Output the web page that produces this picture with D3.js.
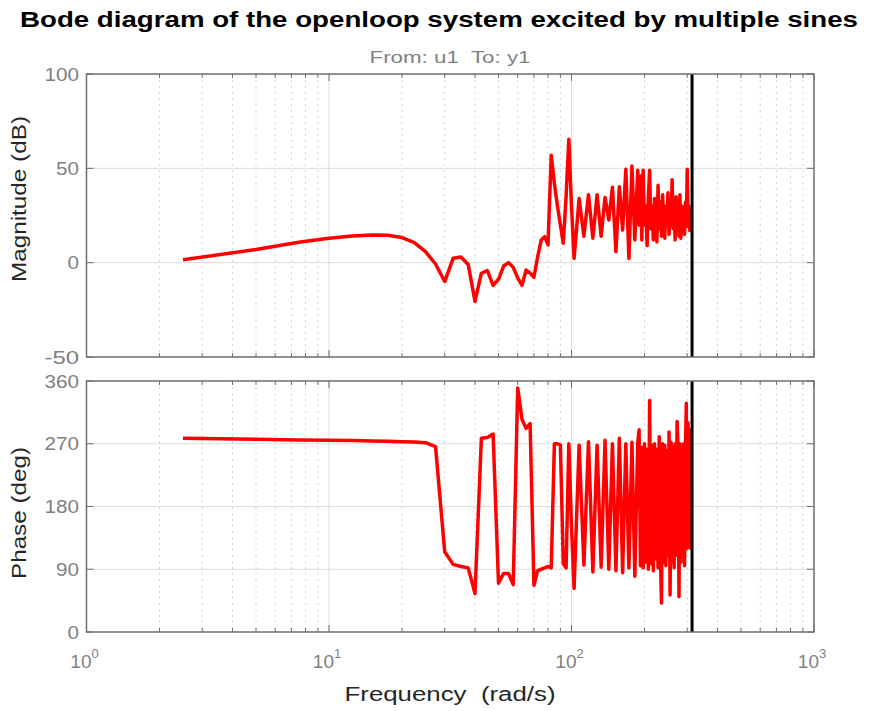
<!DOCTYPE html>
<html>
<head>
<meta charset="utf-8">
<script src="https://cdn.jsdelivr.net/npm/d3@7"></script>
<style>
  body { margin: 0; background: #fff; }
  svg { display: block; }
  text { font-family: "Liberation Sans", Arial, sans-serif; white-space: pre; }
</style>
</head>
<body>
<svg width="869" height="711"></svg>
<script>
// frequency points (rad/s)
const freq = [
  2.5, 5, 7.5, 10, 12.5, 15, 17.5, 20, 22.5, 25, 27.5, 30, 32.5, 35, 37.5, 40,
  42.5, 45, 47.5, 50, 52.5, 55, 57.5, 60, 62.5, 65, 67.5, 70, 72.5, 75, 77.5, 80,
  82.5, 85, 87.5, 90, 92.5, 95, 97.5, 100,
  102.5, 107.5, 112.5, 117.5, 122.5, 127.5, 132.5, 137.5, 142.5, 147.5, 152.5,
  157.5, 162.5, 167.5, 172.5, 177.5, 182.5, 187.5,
  190, 192.5, 195, 197.5, 200, 202.5, 205, 207.5, 210, 212.5, 215, 217.5, 220,
  222.5, 225, 227.5, 230, 232.5, 235, 237.5, 240, 242.5, 245, 247.5, 250, 252.5,
  255, 257.5, 260, 262.5, 265, 267.5, 270, 272.5, 275, 277.5, 280, 282.5, 285,
  287.5, 290, 292.5, 295, 297.5, 300, 302.5, 305, 307.5, 310, 312.5
]

// magnitude (dB)
const magDb = [
  1.5, 7, 10.8, 12.9, 14.1, 14.6, 14.5, 13.3, 10.6, 5.8, -0.7, -10, 2.3, 3, -1, -20.5,
  -5.6, -4.2, -12, -8.8, -1.8, 0, -2.5, -8, -12, -3.9, -5.5, -7.7, 3, 12, 13.8, 9.4,
  57, 42, 30, 20, 10.3, 35, 65.4, 30,
  2.3, 34, 14, 36, 13, 36, 14, 34.6, 22.6, 40, 5.8,
  40.3, 17.3, 49.5, 2.3, 51.2, 12, 49,
  20, 46, 12, 49, 20, 30, 9, 35, 49, 18, 30, 12, 34,
  20, 11, 41, 18, 32, 14, 36, 20, 13, 30, 22, 37, 15,
  28, 20, 44, 18, 30, 12, 35, 20, 28, 14, 36, 13, 30,
  22, 28, 15, 32, 19, 49.5, 22, 30, 17, 28, 22
]

// phase (deg)
const phaseDeg = [
  278, 276.5, 275.5, 275, 274.5, 274, 273.5, 273, 272.5, 271.5, 266, 115, 97, 94, 92, 55,
  278, 279, 284, 70, 84, 84, 68, 350, 305, 292, 299, 67, 88, 90, 92, 94,
  92, 270, 270, 268, 98, 92, 270, 150,
  62.6, 268, 96, 273, 86, 268, 93, 275, 90, 270, 88,
  278, 85, 270, 92, 272, 80, 270,
  290, 95, 265, 92, 270, 100, 262, 90, 332, 98, 268, 88, 270,
  105, 262, 92, 280, 110, 41.5, 270, 100, 268, 95, 260, 110, 287,
  53, 272, 100, 265, 92, 270, 110, 302, 265, 50.6, 270, 100, 262,
  120, 270, 95, 260, 328, 120, 300, 130, 290, 120, 200
]

const nyquist = 314.16
const magTicks = [-50, 0, 50, 100]
const phaseTicks = [0, 90, 180, 270, 360]
const decades = [1, 10, 100, 1000]

const svg = d3.select('svg')

const left = 86.5, right = 814
const magTop = 74, magBottom = 357
const phTop = 381, phBottom = 632

const x = d3.scaleLog().domain([1, 1000]).range([left, right])
const yMag = d3.scaleLinear().domain([-50, 100]).range([magBottom, magTop])
const yPh = d3.scaleLinear().domain([0, 360]).range([phBottom, phTop])

// minor frequencies 2..9 in every decade
const minorFreq = []
decades.slice(0, 3).forEach(d => {
  for (let k = 2; k <= 9; k++) minorFreq.push(d * k)
})

const stretch = function (sel, w) {
  sel.attr('textLength', w).attr('lengthAdjust', 'spacingAndGlyphs')
}

const drawPanel = function (y, ticks, values, top, bottom) {
  const g = svg.append('g')

  // dotted minor grid
  g.selectAll('line.minor')
    .data(minorFreq)
    .enter()
    .append('line')
    .attr('x1', d => x(d)).attr('x2', d => x(d))
    .attr('y1', top).attr('y2', bottom)
    .attr('stroke', '#d4d4d4')
    .attr('stroke-width', 1)
    .attr('stroke-dasharray', '2,4')

  // solid major grid
  g.selectAll('line.vmajor')
    .data([10, 100])
    .enter()
    .append('line')
    .attr('x1', d => x(d)).attr('x2', d => x(d))
    .attr('y1', top).attr('y2', bottom)
    .attr('stroke', '#dcdcdc')
    .attr('stroke-width', 1)

  g.selectAll('line.hmajor')
    .data(ticks.slice(1, -1))
    .enter()
    .append('line')
    .attr('x1', left).attr('x2', right)
    .attr('y1', d => y(d)).attr('y2', d => y(d))
    .attr('stroke', '#dcdcdc')
    .attr('stroke-width', 1)

  // response line
  const line = d3.line()
    .x((d, i) => x(freq[i]))
    .y(d => y(d))

  g.append('path')
    .datum(values)
    .attr('d', line)
    .attr('fill', 'none')
    .attr('stroke', '#ff0000')
    .attr('stroke-width', 3.5)
    .attr('stroke-linejoin', 'round')

  // nyquist frequency
  g.append('line')
    .attr('x1', x(nyquist)).attr('x2', x(nyquist))
    .attr('y1', top).attr('y2', bottom)
    .attr('stroke', '#000')
    .attr('stroke-width', 3)

  // ticks on all four sides
  const tickCol = '#6e6e6e'
  minorFreq.forEach(f => {
    g.append('line').attr('x1', x(f)).attr('x2', x(f)).attr('y1', bottom).attr('y2', bottom - 4).attr('stroke', tickCol)
    g.append('line').attr('x1', x(f)).attr('x2', x(f)).attr('y1', top).attr('y2', top + 4).attr('stroke', tickCol)
  })
  decades.forEach(f => {
    g.append('line').attr('x1', x(f)).attr('x2', x(f)).attr('y1', bottom).attr('y2', bottom - 7).attr('stroke', tickCol)
    g.append('line').attr('x1', x(f)).attr('x2', x(f)).attr('y1', top).attr('y2', top + 7).attr('stroke', tickCol)
  })
  ticks.forEach(t => {
    g.append('line').attr('x1', left).attr('x2', left + 7).attr('y1', y(t)).attr('y2', y(t)).attr('stroke', tickCol)
    g.append('line').attr('x1', right).attr('x2', right - 7).attr('y1', y(t)).attr('y2', y(t)).attr('stroke', tickCol)
  })

  // box
  g.append('rect')
    .attr('x', left).attr('y', top)
    .attr('width', right - left).attr('height', bottom - top)
    .attr('fill', 'none')
    .attr('stroke', '#6e6e6e')
    .attr('stroke-width', 1.5)

  // y tick labels
  g.selectAll('text.ytick')
    .data(ticks)
    .enter()
    .append('text')
    .attr('x', 79)
    .attr('y', d => y(d) + 6.5)
    .attr('text-anchor', 'end')
    .attr('font-size', 18)
    .attr('fill', '#808080')
    .text(d => d)
    .each(function (d) {
      stretch(d3.select(this), String(d).length * 11.5)
    })
}

drawPanel(yMag, magTicks, magDb, magTop, magBottom)
drawPanel(yPh, phaseTicks, phaseDeg, phTop, phBottom)

// x tick labels 10^n
decades.forEach((f, i) => {
  const t = svg.append('text')
    .attr('x', x(f) - 2)
    .attr('y', 668)
    .attr('text-anchor', 'middle')
    .attr('fill', '#808080')
  t.append('tspan').attr('font-size', 19).text('10')
  t.append('tspan').attr('font-size', 13).attr('dy', -10).text(i)
})

// titles and labels
svg.append('text')
  .attr('x', 439).attr('y', 27)
  .attr('text-anchor', 'middle')
  .attr('font-size', 22)
  .attr('font-weight', 'bold')
  .attr('fill', '#000')
  .text('Bode diagram of the openloop system excited by multiple sines')
  .call(stretch, 838)

svg.append('text')
  .attr('x', 450).attr('y', 63)
  .attr('text-anchor', 'middle')
  .attr('font-size', 16)
  .attr('fill', '#808080')
  .text('From: u1  To: y1')
  .call(stretch, 161)

svg.append('text')
  .attr('x', 450).attr('y', 701)
  .attr('text-anchor', 'middle')
  .attr('font-size', 20)
  .attr('fill', '#262626')
  .text('Frequency  (rad/s)')
  .call(stretch, 211)

svg.append('text')
  .attr('transform', 'translate(26,199) rotate(-90)')
  .attr('text-anchor', 'middle')
  .attr('font-size', 20)
  .attr('fill', '#262626')
  .text('Magnitude (dB)')
  .call(stretch, 166)

svg.append('text')
  .attr('transform', 'translate(26,513) rotate(-90)')
  .attr('text-anchor', 'middle')
  .attr('font-size', 20)
  .attr('fill', '#262626')
  .text('Phase (deg)')
  .call(stretch, 132)
</script>
</body>
</html>
